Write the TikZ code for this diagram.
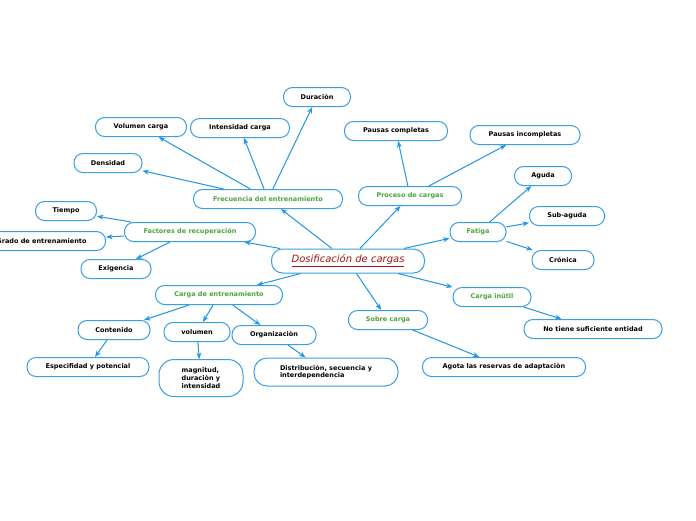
\documentclass[tikz,border=0pt]{standalone}
\usepackage{fontspec}
\setmainfont{DejaVu Sans}
\usetikzlibrary{arrows.meta,positioning}
\definecolor{boxblue}{HTML}{3A9FE2}
\definecolor{linkblue}{HTML}{2196E4}
\definecolor{branchgreen}{HTML}{4CA43C}
\definecolor{rootred}{HTML}{A31515}

\begin{document}
\begin{tikzpicture}[x=1pt,y=-1pt]

\tikzset{leaf/.style={draw=boxblue,line width=1pt,rounded corners=9pt,fill=white,font=\fontsize{6.5}{7.8}\selectfont\bfseries,minimum height=19pt,inner xsep=6pt,inner ysep=2pt},
branch/.style={leaf,text=branchgreen},
link/.style={draw=linkblue,line width=1pt,-{Stealth[length=6.5pt,width=5pt]}}}

\fill[white] (0,0) rectangle (696,520);
\useasboundingbox (0,0) rectangle (696,520);

% Root node
\node[leaf,minimum width=153pt,minimum height=24pt,rounded corners=11pt,text=rootred,font=\fontsize{10}{12}\selectfont\itshape] (dos) at (348,261) {\underline{Dosificación de cargas}};

% Branch nodes
\node[branch,minimum width=149pt] (frec) at (268,199) {Frecuencia del entrenamiento};
\node[branch,minimum width=131pt] (fact) at (190,232) {Factores de recuperación};
\node[branch,minimum width=127pt] (carga) at (219,295) {Carga de entrenamiento};
\node[branch,minimum width=103pt] (proc) at (410,196) {Proceso de cargas};
\node[branch,minimum width=56pt] (fat) at (478,232) {Fatiga};
\node[branch,minimum width=78pt] (inutil) at (492,297) {Carga inútil};
\node[branch,minimum width=79pt] (sobre) at (388,320) {Sobre carga};

% Leaves of frecuencia
\node[leaf,minimum width=67pt] (dur) at (317,97) {Duraciòn};
\node[leaf,minimum width=91pt] (volc) at (141,127) {Volumen carga};
\node[leaf,minimum width=99pt] (intc) at (240,128) {Intensidad carga};
\node[leaf,minimum width=68pt] (dens) at (108,163) {Densidad};

% Leaves of proceso and fatiga
\node[leaf,minimum width=103pt] (pcomp) at (396,131) {Pausas completas};
\node[leaf,minimum width=110pt] (pinc) at (525,135) {Pausas incompletas};
\node[leaf,minimum width=57pt] (agu) at (543,176) {Aguda};
\node[leaf,minimum width=75pt] (sub) at (567,216) {Sub-aguda};
\node[leaf,minimum width=62pt] (cro) at (563,260) {Crónica};

% Leaves of factores
\node[leaf,minimum width=61pt] (tiem) at (66,211) {Tiempo};
\node[leaf,minimum width=128pt,anchor=east] (grado) at (106,241) {Grado de entrenamiento};
\node[leaf,minimum width=70pt] (exig) at (116,269) {Exigencia};

% Leaves of carga de entrenamiento
\node[leaf,minimum width=72pt] (cont) at (114,330) {Contenido};
\node[leaf,minimum width=66pt] (volu) at (197,332) {volumen};
\node[leaf,minimum width=84pt] (org) at (274,335) {Organizaciòn};
\node[leaf,minimum width=122pt] (esp) at (88,367) {Especifidad y potencial};
\node[leaf,minimum width=84pt,minimum height=37pt,rounded corners=15pt,align=left] (mag) at (201,378) {magnitud,\\duraciòn y\\intensidad};
\node[leaf,minimum width=144pt,minimum height=28pt,rounded corners=13pt,align=left] (dist) at (326,372) {Distribuciòn, secuencia y\\interdependencia};

% Leaves of carga inutil and sobre carga
\node[leaf,minimum width=138pt] (nosuf) at (593,329) {No tiene suficiente entidad};
\node[leaf,minimum width=163pt] (agota) at (504,367) {Agota las reservas de adaptaciòn};

% Connectors
\foreach \a/\b in {dos/frec,dos/fact,dos/carga,dos/proc,dos/fat,dos/inutil,dos/sobre,
  frec/dens,frec/volc,frec/intc,frec/dur,fact/tiem,fact/grado,fact/exig,
  carga/cont,carga/volu,carga/org,cont/esp,volu/mag,org/dist,
  proc/pcomp,proc/pinc,fat/agu,fat/sub,fat/cro,inutil/nosuf,sobre/agota}
  \draw[link] (\a) -- (\b);

\end{tikzpicture}
\end{document}
